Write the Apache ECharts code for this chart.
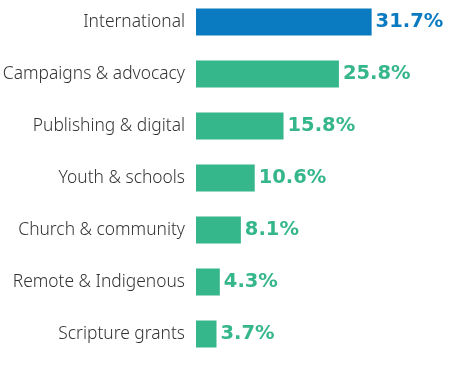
<!DOCTYPE html>
<html><head><meta charset="utf-8">
<script src="https://cdn.jsdelivr.net/npm/echarts@6/dist/echarts.min.js"></script>
<style>html,body{margin:0;padding:0;background:#fff;overflow:hidden}#c{position:absolute;left:0;top:-4px;width:450px;height:379px}</style>
</head><body><div id="c"></div>
<script>
const categories = ["International","Campaigns & advocacy","Publishing & digital","Youth & schools","Church & community","Remote & Indigenous","Scripture grants"];
const values = [31.7, 25.8, 15.8, 10.6, 8.1, 4.3, 3.7];
const highlightIndex = 0;
const blue = "#0a7bc1", green = "#35b68b";
const chart = echarts.init(document.getElementById('c'));
chart.setOption({
  animation:false,
  grid:{left:196, top:0, height:364, width:221.6, containLabel:false, outerBoundsMode:'none'},
  xAxis:{type:'value', min:0, max:40, show:false},
  yAxis:{type:'category', data:categories, inverse:true,
    axisLine:{show:false}, axisTick:{show:false},
    axisLabel:{margin:11, fontFamily:'Noto Sans', fontWeight:300, fontSize:17.4, color:'#333'}},
  series:[{type:'bar', barWidth:27,
    data: values.map((v,i)=>({value:v, itemStyle:{color:i===highlightIndex?blue:green},
      label:{color:i===highlightIndex?blue:green}})),
    label:{show:true, position:'right', distance:4, formatter: p=>p.value.toFixed(1)+'%',
      fontFamily:'DejaVu Sans', fontWeight:'bold', fontSize:19.5}
  }]
});
</script></body></html>
